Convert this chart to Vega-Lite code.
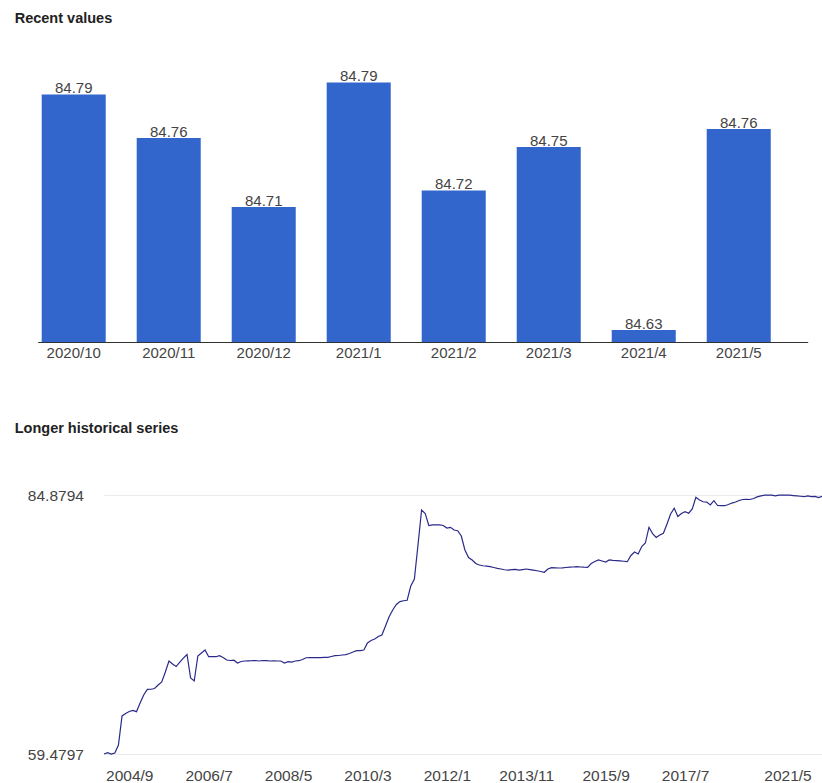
{
  "$schema": "https://vega.github.io/schema/vega-lite/v6.json",
  "padding": {"left": 14, "top": 10, "right": 0, "bottom": 0},
  "background": "white",
  "spacing": 60,
  "config": {"view": {"stroke": null}, "font": "Liberation Sans"},
  "datasets": {
    "recent": [
      {"month": "2020/10", "value": 84.786},
      {"month": "2020/11", "value": 84.757},
      {"month": "2020/12", "value": 84.711},
      {"month": "2021/1", "value": 84.794},
      {"month": "2021/2", "value": 84.722},
      {"month": "2021/3", "value": 84.751},
      {"month": "2021/4", "value": 84.629},
      {"month": "2021/5", "value": 84.763}
    ],
    "history": [
      {"date": "2004/2", "value": 59.4797}, {"date": "2004/3", "value": 59.61}, {"date": "2004/4", "value": 59.48}, {"date": "2004/5", "value": 59.58},
      {"date": "2004/6", "value": 60.36}, {"date": "2004/7", "value": 63.21}, {"date": "2004/8", "value": 63.45}, {"date": "2004/9", "value": 63.65},
      {"date": "2004/10", "value": 63.75}, {"date": "2004/11", "value": 63.63}, {"date": "2004/12", "value": 64.48}, {"date": "2005/1", "value": 65.27},
      {"date": "2005/2", "value": 65.81}, {"date": "2005/3", "value": 65.83}, {"date": "2005/4", "value": 65.9}, {"date": "2005/5", "value": 66.25},
      {"date": "2005/6", "value": 66.54}, {"date": "2005/7", "value": 67.52}, {"date": "2005/8", "value": 68.6}, {"date": "2005/9", "value": 68.31},
      {"date": "2005/10", "value": 68.06}, {"date": "2005/11", "value": 68.5}, {"date": "2005/12", "value": 68.89}, {"date": "2006/1", "value": 69.24},
      {"date": "2006/2", "value": 66.93}, {"date": "2006/3", "value": 66.64}, {"date": "2006/4", "value": 69.09}, {"date": "2006/5", "value": 69.38},
      {"date": "2006/6", "value": 69.68}, {"date": "2006/7", "value": 69.02}, {"date": "2006/8", "value": 69.02}, {"date": "2006/9", "value": 69.02},
      {"date": "2006/10", "value": 69.12}, {"date": "2006/11", "value": 68.94}, {"date": "2006/12", "value": 68.7}, {"date": "2007/1", "value": 68.65},
      {"date": "2007/2", "value": 68.68}, {"date": "2007/3", "value": 68.4}, {"date": "2007/4", "value": 68.55}, {"date": "2007/5", "value": 68.6},
      {"date": "2007/6", "value": 68.62}, {"date": "2007/7", "value": 68.63}, {"date": "2007/8", "value": 68.65}, {"date": "2007/9", "value": 68.6},
      {"date": "2007/10", "value": 68.65}, {"date": "2007/11", "value": 68.63}, {"date": "2007/12", "value": 68.6}, {"date": "2008/1", "value": 68.62},
      {"date": "2008/2", "value": 68.6}, {"date": "2008/3", "value": 68.6}, {"date": "2008/4", "value": 68.4}, {"date": "2008/5", "value": 68.53},
      {"date": "2008/6", "value": 68.5}, {"date": "2008/7", "value": 68.6}, {"date": "2008/8", "value": 68.63}, {"date": "2008/9", "value": 68.75},
      {"date": "2008/10", "value": 68.92}, {"date": "2008/11", "value": 68.94}, {"date": "2008/12", "value": 68.94}, {"date": "2009/1", "value": 68.94},
      {"date": "2009/2", "value": 68.94}, {"date": "2009/3", "value": 68.96}, {"date": "2009/4", "value": 68.96}, {"date": "2009/5", "value": 69.04},
      {"date": "2009/6", "value": 69.12}, {"date": "2009/7", "value": 69.14}, {"date": "2009/8", "value": 69.19}, {"date": "2009/9", "value": 69.22},
      {"date": "2009/10", "value": 69.34}, {"date": "2009/11", "value": 69.48}, {"date": "2009/12", "value": 69.61}, {"date": "2010/1", "value": 69.61},
      {"date": "2010/2", "value": 69.68}, {"date": "2010/3", "value": 70.37}, {"date": "2010/4", "value": 70.61}, {"date": "2010/5", "value": 70.76},
      {"date": "2010/6", "value": 71.0}, {"date": "2010/7", "value": 71.15}, {"date": "2010/8", "value": 72.03}, {"date": "2010/9", "value": 72.94},
      {"date": "2010/10", "value": 73.6}, {"date": "2010/11", "value": 74.14}, {"date": "2010/12", "value": 74.43}, {"date": "2011/1", "value": 74.51},
      {"date": "2011/2", "value": 74.56}, {"date": "2011/3", "value": 75.95}, {"date": "2011/4", "value": 76.64}, {"date": "2011/5", "value": 79.98},
      {"date": "2011/6", "value": 83.41}, {"date": "2011/7", "value": 83.07}, {"date": "2011/8", "value": 81.89}, {"date": "2011/9", "value": 81.94},
      {"date": "2011/10", "value": 81.94}, {"date": "2011/11", "value": 81.94}, {"date": "2011/12", "value": 81.89}, {"date": "2012/1", "value": 81.64},
      {"date": "2012/2", "value": 81.71}, {"date": "2012/3", "value": 81.45}, {"date": "2012/4", "value": 81.38}, {"date": "2012/5", "value": 80.86},
      {"date": "2012/6", "value": 79.49}, {"date": "2012/7", "value": 78.75}, {"date": "2012/8", "value": 78.51}, {"date": "2012/9", "value": 78.16},
      {"date": "2012/10", "value": 78.01}, {"date": "2012/11", "value": 77.94}, {"date": "2012/12", "value": 77.9}, {"date": "2013/1", "value": 77.85},
      {"date": "2013/2", "value": 77.77}, {"date": "2013/3", "value": 77.69}, {"date": "2013/4", "value": 77.62}, {"date": "2013/5", "value": 77.55},
      {"date": "2013/6", "value": 77.52}, {"date": "2013/7", "value": 77.57}, {"date": "2013/8", "value": 77.59}, {"date": "2013/9", "value": 77.52},
      {"date": "2013/10", "value": 77.57}, {"date": "2013/11", "value": 77.62}, {"date": "2013/12", "value": 77.57}, {"date": "2014/1", "value": 77.52},
      {"date": "2014/2", "value": 77.45}, {"date": "2014/3", "value": 77.38}, {"date": "2014/4", "value": 77.3}, {"date": "2014/5", "value": 77.62},
      {"date": "2014/6", "value": 77.75}, {"date": "2014/7", "value": 77.74}, {"date": "2014/8", "value": 77.72}, {"date": "2014/9", "value": 77.74},
      {"date": "2014/10", "value": 77.77}, {"date": "2014/11", "value": 77.8}, {"date": "2014/12", "value": 77.82}, {"date": "2015/1", "value": 77.85},
      {"date": "2015/2", "value": 77.82}, {"date": "2015/3", "value": 77.8}, {"date": "2015/4", "value": 77.79}, {"date": "2015/5", "value": 78.16},
      {"date": "2015/6", "value": 78.36}, {"date": "2015/7", "value": 78.51}, {"date": "2015/8", "value": 78.41}, {"date": "2015/9", "value": 78.31},
      {"date": "2015/10", "value": 78.51}, {"date": "2015/11", "value": 78.46}, {"date": "2015/12", "value": 78.44}, {"date": "2016/1", "value": 78.41},
      {"date": "2016/2", "value": 78.38}, {"date": "2016/3", "value": 78.34}, {"date": "2016/4", "value": 78.95}, {"date": "2016/5", "value": 79.29},
      {"date": "2016/6", "value": 79.09}, {"date": "2016/7", "value": 79.83}, {"date": "2016/8", "value": 80.17}, {"date": "2016/9", "value": 81.71},
      {"date": "2016/10", "value": 81.1}, {"date": "2016/11", "value": 80.71}, {"date": "2016/12", "value": 80.96}, {"date": "2017/1", "value": 81.12},
      {"date": "2017/2", "value": 82.04}, {"date": "2017/3", "value": 83.02}, {"date": "2017/4", "value": 83.58}, {"date": "2017/5", "value": 82.77},
      {"date": "2017/6", "value": 83.07}, {"date": "2017/7", "value": 83.24}, {"date": "2017/8", "value": 83.09}, {"date": "2017/9", "value": 83.51},
      {"date": "2017/10", "value": 84.65}, {"date": "2017/11", "value": 84.39}, {"date": "2017/12", "value": 84.22}, {"date": "2018/1", "value": 84.19},
      {"date": "2018/2", "value": 83.9}, {"date": "2018/3", "value": 84.32}, {"date": "2018/5", "value": 83.85}, {"date": "2018/6", "value": 83.83},
      {"date": "2018/7", "value": 83.83}, {"date": "2018/8", "value": 83.95}, {"date": "2018/10", "value": 84.09}, {"date": "2018/11", "value": 84.19},
      {"date": "2018/12", "value": 84.34}, {"date": "2019/1", "value": 84.44}, {"date": "2019/3", "value": 84.46}, {"date": "2019/4", "value": 84.44},
      {"date": "2019/5", "value": 84.54}, {"date": "2019/7", "value": 84.7}, {"date": "2019/8", "value": 84.8}, {"date": "2019/9", "value": 84.86},
      {"date": "2019/11", "value": 84.87}, {"date": "2019/12", "value": 84.87}, {"date": "2020/2", "value": 84.8}, {"date": "2020/3", "value": 84.86},
      {"date": "2020/5", "value": 84.8794}, {"date": "2020/6", "value": 84.87}, {"date": "2020/8", "value": 84.86}, {"date": "2020/9", "value": 84.82},
      {"date": "2020/10", "value": 84.786}, {"date": "2020/11", "value": 84.757}, {"date": "2020/12", "value": 84.711}, {"date": "2021/1", "value": 84.794},
      {"date": "2021/2", "value": 84.722}, {"date": "2021/3", "value": 84.751}, {"date": "2021/4", "value": 84.629}, {"date": "2021/5", "value": 84.763}
    ]
  },
  "vconcat": [
    {
      "title": {"text": "Recent values", "anchor": "start", "frame": "group", "fontSize": 14.5, "fontWeight": "bold", "color": "#222222", "offset": 36, "dx": -89.3, "font": "Liberation Sans"},
      "width": 703.7,
      "height": 280,
      "data": {"name": "recent"},
      "encoding": {
        "x": {
          "field": "month", "type": "ordinal", "sort": null,
          "scale": {"range": [-66.3, 703.7], "paddingInner": 0.326, "paddingOuter": 0.2155, "align": 0.0976},
          "axis": {"title": null, "labelAngle": 0, "ticks": false, "domainColor": "#333333", "domainWidth": 1, "labelFontSize": 15, "labelColor": "#444444", "labelPadding": 3, "labelFont": "Liberation Sans"}
        },
        "y": {
          "field": "value", "type": "quantitative",
          "scale": {"domain": [84.621, 84.8077], "zero": false, "nice": false},
          "axis": null
        }
      },
      "layer": [
        {"mark": {"type": "bar", "color": "#3366cc"}, "encoding": {"y2": {"datum": 84.621}}},
        {
          "mark": {"type": "text", "baseline": "alphabetic", "dy": -1.5, "fontSize": 15, "color": "#444444", "font": "Liberation Sans"},
          "encoding": {"text": {"field": "value", "type": "quantitative", "format": ".2f"}}
        }
      ]
    },
    {
      "title": {"text": "Longer historical series", "anchor": "start", "frame": "group", "fontSize": 14.5, "fontWeight": "bold", "color": "#222222", "offset": 52, "dx": -89.3, "font": "Liberation Sans"},
      "width": 718.2,
      "height": 259,
      "data": {"name": "history"},
      "mark": {"type": "line", "color": "#2a2a8a", "strokeWidth": 1.2},
      "encoding": {
        "x": {
          "field": "date", "type": "ordinal", "sort": null,
          "scale": {"type": "point", "padding": 0},
          "axis": {"values": ["2004/9", "2006/7", "2008/5", "2010/3", "2012/1", "2013/11", "2015/9", "2017/7", "2021/5"], "title": null, "labelAngle": 0, "ticks": false, "domain": false, "grid": false, "labelFontSize": 15.5, "labelColor": "#444444", "labelPadding": 14, "labelFlush": true, "labelFlushOffset": -11, "labelFont": "Liberation Sans"}
        },
        "y": {
          "field": "value", "type": "quantitative",
          "scale": {"domain": [59.4797, 84.8794], "zero": false, "nice": false},
          "axis": {"values": [59.4797, 84.8794], "format": ".4f", "title": null, "ticks": false, "domain": false, "grid": true, "gridColor": "#ebebeb", "labelFontSize": 15.5, "labelColor": "#444444", "labelPadding": 20.6, "labelFont": "Liberation Sans"}
        }
      }
    }
  ]
}
